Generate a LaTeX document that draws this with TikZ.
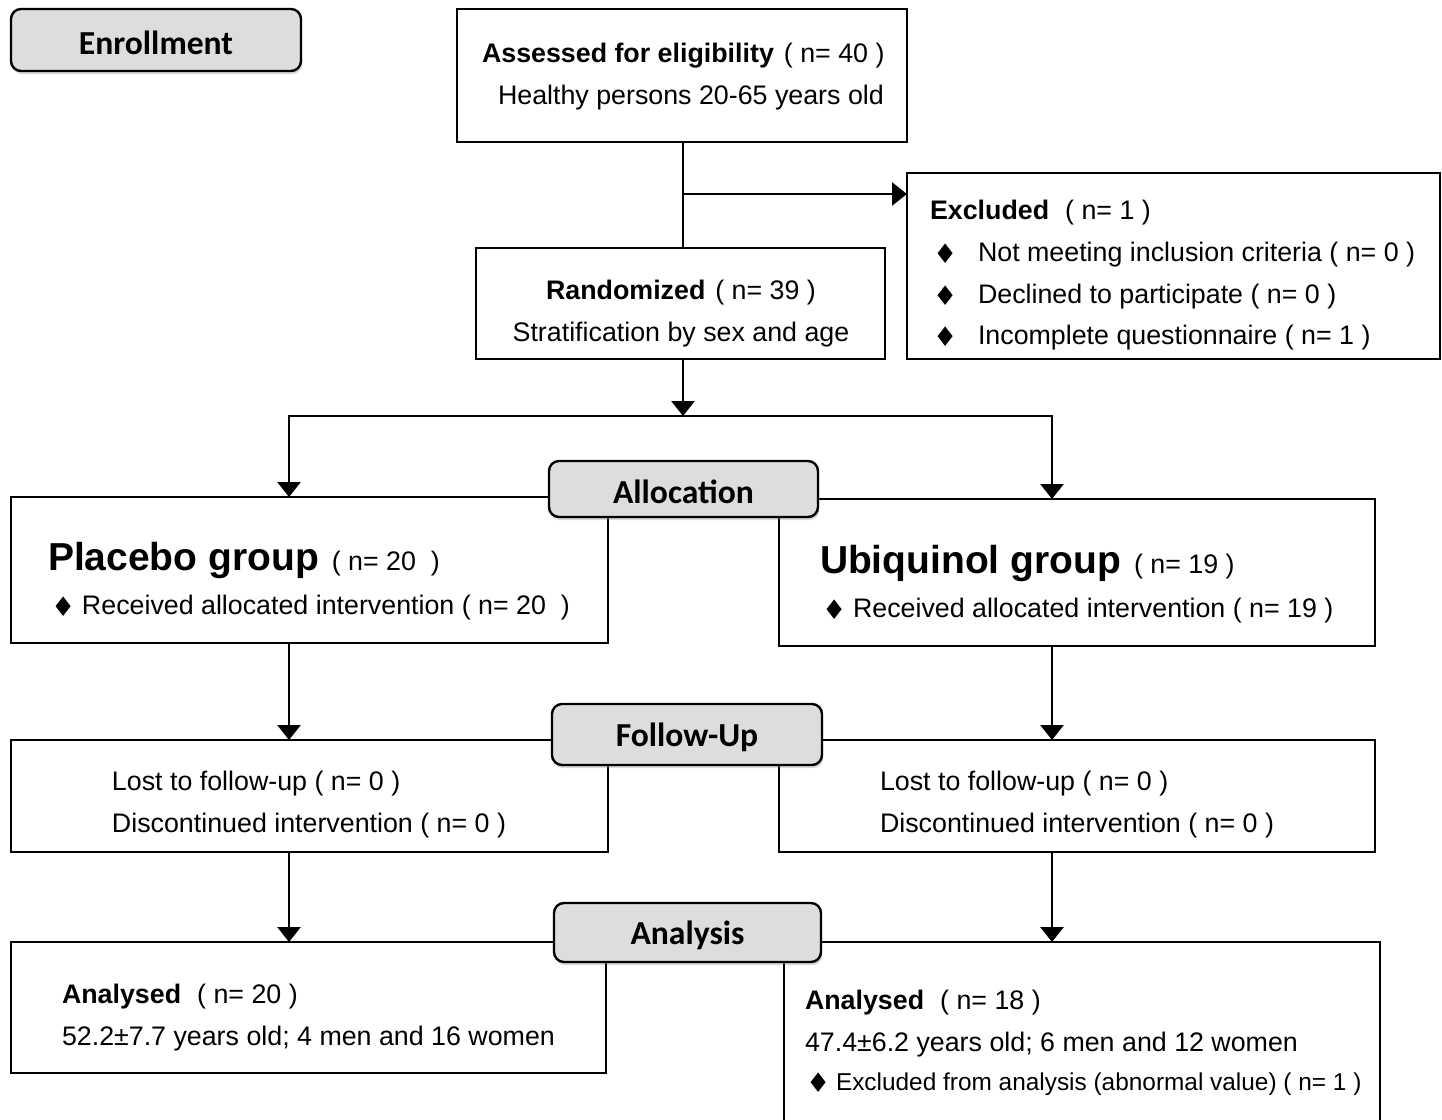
\documentclass[tikz,border=0pt]{standalone}
\usepackage{fontspec}
\setmainfont{Liberation Sans}
\newfontfamily\hdrfont{Carlito}
\newfontfamily\symfont{DejaVu Sans}
\usetikzlibrary{arrows.meta,shadows}
\definecolor{hdrgray}{RGB}{221,221,221}
\newcommand{\bul}[1]{\makebox[#1][l]{{\symfont\fontsize{13.5}{13.5}\selectfont\raisebox{-1pt}{♦}}}}
\newcommand{\ttl}{\fontsize{19.5}{22}\selectfont\bfseries}
\newcommand{\hdrtxt}[1]{\raisebox{-1.6pt}[\height][\depth]{#1}}
\begin{document}
\begin{tikzpicture}[x=0.5pt,y=-0.5pt,
  every node/.style={inner sep=0pt, outer sep=0pt},
  txt/.style={font=\fontsize{13.4}{16}\selectfont, anchor=base west},
  box/.style 2 args={draw, line width=1pt, fill=white, minimum width=#1, minimum height=#2},
  hdr/.style 2 args={draw, line width=1.2pt, rounded corners=5pt, fill=hdrgray,
     minimum width=#1, minimum height=#2,
     font=\hdrfont\bfseries\fontsize{16.8}{20}\selectfont,
     drop shadow={shadow xshift=0.6pt, shadow yshift=-1.6pt, opacity=0.3}},
  conn/.style={line width=1.4pt},
  arr/.style={line width=1.4pt, -{Triangle[length=7.5pt,width=11.5pt]}}]

\useasboundingbox (0,0) rectangle (1442,1120);

% boxes
\node[box={225pt}{66.5pt}] (assess) at (682,75.5) {};
\node[box={266.5pt}{93pt}] (excl) at (1173.5,266) {};
\node[box={204.5pt}{55.5pt}] (rand) at (680.5,303.5) {};
\node[box={298.5pt}{73pt}] (placebo) at (309.5,570) {};
\node[box={298pt}{73.5pt}] (ubiq) at (1077,572.5) {};
\node[box={298.5pt}{56pt}] (fuL) at (309.5,796) {};
\node[box={298pt}{56pt}] (fuR) at (1077,796) {};
\node[box={297.5pt}{65.5pt}] (anL) at (308.5,1007.5) {};
\node[box={298pt}{96pt}] (anR) at (1082,1038) {};

% helper coordinates
\coordinate (j1) at (683,194);
\coordinate (split) at (683,416);
\coordinate (pl) at (289,416);
\coordinate (pr) at (1052,416);
\coordinate (colL) at (289,0);
\coordinate (colR) at (1052,0);

% connectors
\draw[conn] (assess.south -| j1) -- (rand.north -| j1);
\draw[arr] (j1) -- (excl.west |- j1);
\draw[arr] (rand.south -| split) -- (split);
\draw[arr] (split) -| (placebo.north -| pl);
\draw[arr] (split) -| (ubiq.north -| pr);
\draw[arr] (placebo.south -| colL) -- (fuL.north -| colL);
\draw[arr] (ubiq.south -| colR) -- (fuR.north -| colR);
\draw[arr] (fuL.south -| colL) -- (anL.north -| colL);
\draw[arr] (fuR.south -| colR) -- (anR.north -| colR);

% headers
\node[hdr={145pt}{31pt}] (enroll) at (156,40) {\hdrtxt{Enrollment}};
\node[hdr={134.5pt}{28pt}] (alloc) at (683.5,489) {\hdrtxt{Allocation}};
\node[hdr={135pt}{30.5pt}] (fu) at (687,734.5) {\hdrtxt{Follow-Up}};
\node[hdr={133.5pt}{29.5pt}] (an) at (687.5,932.5) {\hdrtxt{Analysis}};

% texts: assessed
\node[txt] (t1) at (482,62) {\textbf{Assessed for eligibility}\hspace{5pt}( n= 40 )};
\node[txt] (t2) at (498,104) {Healthy persons 20-65 years old};

% excluded
\node[txt] (e0) at (930,219) {\textbf{Excluded}\hspace{8pt}( n= 1 )};
\node[txt] (e1) at (933,261) {\bul{22.5pt}Not meeting inclusion criteria ( n= 0 )};
\node[txt] (e2) at (933,303) {\bul{22.5pt}Declined to participate ( n= 0 )};
\node[txt] (e3) at (933,344) {\bul{22.5pt}Incomplete questionnaire ( n= 1 )};

% randomized
\node[txt, anchor=base] (r1) at (681,299) {\textbf{Randomized}\hspace{5pt}( n= 39 )};
\node[txt, anchor=base] (r2) at (681,341) {Stratification by sex and age};

% placebo
\node[txt] (p1) at (48,570) {{\ttl Placebo group}\hspace{6.5pt}( n= 20\ \ )};
\node[txt] (p2) at (51,614) {\bul{15.5pt}Received allocated intervention ( n= 20\ \ )};

% ubiquinol
\node[txt] (u1) at (820,573) {{\ttl Ubiquinol group}\hspace{6.5pt}( n= 19 )};
\node[txt] (u2) at (822,617) {\bul{15.5pt}Received allocated intervention ( n= 19 )};

% follow-up
\node[txt] (fl1) at (112,790) {Lost to follow-up ( n= 0 )};
\node[txt] (fl2) at (112,832) {Discontinued intervention ( n= 0 )};
\node[txt] (fr1) at (880,790) {Lost to follow-up ( n= 0 )};
\node[txt] (fr2) at (880,832) {Discontinued intervention ( n= 0 )};

% analysis
\node[txt] (al1) at (62,1003) {\textbf{Analysed}\hspace{8pt}( n= 20 )};
\node[txt] (al2) at (62,1045) {52.2±7.7 years old; 4 men and 16 women};
\node[txt] (ar1) at (805,1009) {\textbf{Analysed}\hspace{8pt}( n= 18 )};
\node[txt] (ar2) at (805,1051) {47.4±6.2 years old; 6 men and 12 women};
\node[txt, font=\fontsize{12.2}{14}\selectfont] (ar3) at (806,1090) {\bul{15pt}Excluded from analysis (abnormal value) ( n= 1 )};

\end{tikzpicture}
\end{document}
